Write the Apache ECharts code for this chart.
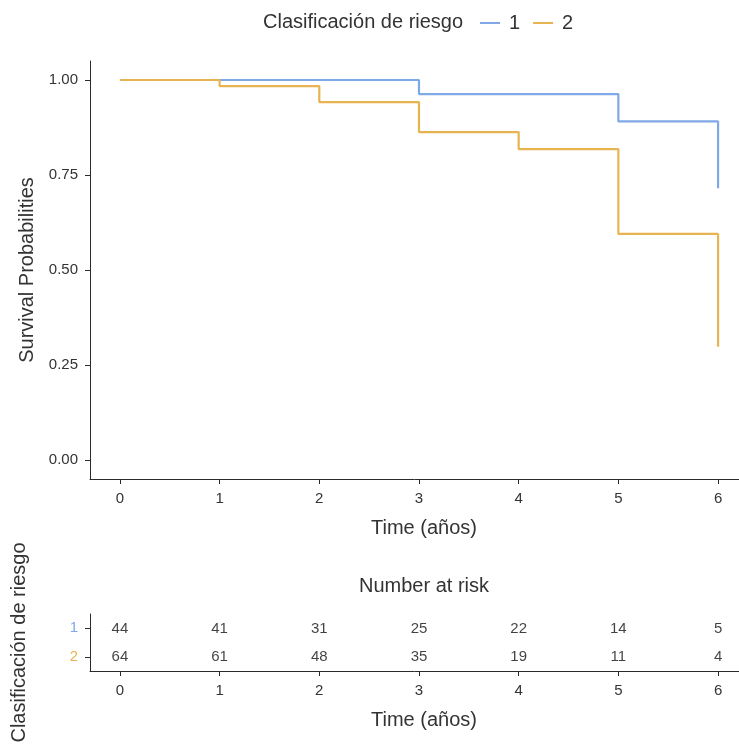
<!DOCTYPE html>
<html>
<head>
<meta charset="utf-8">
<script src="https://cdn.jsdelivr.net/npm/echarts@6/dist/echarts.min.js"></script>
<style>html,body{margin:0;padding:0;background:#fff}#c{width:739px;height:748px}</style>
</head>
<body>
<div id="c"></div>
<script>
var timeTicks = [0, 1, 2, 3, 4, 5, 6];
var probTicks = [0, 0.25, 0.5, 0.75, 1];
var groupNames = ['1', '2'];
var groupColors = ['#7FA8E6', '#E8B452'];
// Kaplan-Meier step points (time, survival)
var stepTime1 = [0, 3, 5, 6];
var stepSurv1 = [1.0, 0.963, 0.891, 0.715];
var stepTime2 = [0, 1, 2, 3, 4, 5, 6];
var stepSurv2 = [1.0, 0.984, 0.942, 0.863, 0.818, 0.595, 0.298];
var endTime = 6;
var risk1 = [44, 41, 31, 25, 22, 14, 5];
var risk2 = [64, 61, 48, 35, 19, 11, 4];

function steps(ts, ss) {
  var d = [];
  for (var i = 0; i < ts.length; i++) d.push([ts[i], ss[i]]);
  d.push([endTime, ss[ss.length - 1]]);
  return d;
}
function riskData(arr, g) {
  return timeTicks.map(function (t, i) { return [t, g, arr[i]]; });
}

var txt = '#333333';
var font = 'Liberation Sans, Arial, sans-serif';
var axisLineStyle = { show: true, onZero: false, lineStyle: { color: '#2b2b2b', width: 1 } };
var tickStyle = { color: '#2b2b2b', width: 1 };
function ttl(text, top) {
  return { text: text, left: 419, textAlign: 'center', top: top,
    textStyle: { fontSize: 20, fontWeight: 'normal', color: txt, fontFamily: font } };
}

var chart = echarts.init(document.getElementById('c'), null, { renderer: 'canvas' });
chart.setOption({
  animation: false,
  textStyle: { fontFamily: font },
  title: [
    { text: 'Clasificación de riesgo', left: 258, top: 7, textStyle: { fontSize: 20, fontWeight: 'normal', color: txt, fontFamily: font } },
    ttl('Number at risk', 571),
    ttl('Time (años)', 513),
    ttl('Time (años)', 705)
  ],
  legend: {
    left: 475, top: 8, itemWidth: 20, itemHeight: 2, itemGap: 13,
    icon: 'rect',
    data: groupNames,
    textStyle: { fontSize: 20, color: txt, fontFamily: font, padding: [0, 0, 0, 4] }
  },
  grid: [
    { left: 90, top: 61, width: 649, height: 418 },
    { left: 90, top: 614, width: 649, height: 57 }
  ],
  xAxis: [
    {
      gridIndex: 0, type: 'value', min: -0.3, max: 6.21,
      splitLine: { show: false },
      axisLine: axisLineStyle,
      axisTick: { show: true, length: 5, customValues: timeTicks, lineStyle: tickStyle },
      axisLabel: { customValues: timeTicks, fontSize: 15, color: txt, margin: 12 }
    },
    {
      gridIndex: 1, type: 'value', min: -0.3, max: 6.21,
      splitLine: { show: false },
      axisLine: axisLineStyle,
      axisTick: { show: true, length: 5, customValues: timeTicks, lineStyle: tickStyle },
      axisLabel: { customValues: timeTicks, fontSize: 15, color: txt, margin: 12 }
    }
  ],
  yAxis: [
    {
      gridIndex: 0, type: 'value', min: -0.05, max: 1.05,
      splitLine: { show: false },
      axisLine: axisLineStyle,
      axisTick: { show: true, length: 5, customValues: probTicks, lineStyle: tickStyle },
      axisLabel: { customValues: probTicks, fontSize: 15, color: txt, margin: 12,
        formatter: function (v) { return v.toFixed(2); } },
      name: 'Survival Probabilities', nameLocation: 'middle', nameGap: 53, nameRotate: 90,
      nameTextStyle: { fontSize: 20, color: txt }
    },
    {
      gridIndex: 1, type: 'category', data: groupNames, inverse: true,
      splitLine: { show: false },
      axisLine: axisLineStyle,
      axisTick: { show: true, length: 5, alignWithLabel: true, lineStyle: tickStyle },
      axisLabel: { fontSize: 15, margin: 12,
        color: function (v, i) { return groupColors[groupNames.indexOf(v)]; } },
      name: 'Clasificación de riesgo', nameLocation: 'middle', nameGap: 61, nameRotate: 90,
      nameTextStyle: { fontSize: 20, color: txt }
    }
  ],
  series: [
    {
      name: groupNames[0], type: 'line', step: 'end', xAxisIndex: 0, yAxisIndex: 0,
      data: steps(stepTime1, stepSurv1), symbol: 'none',
      lineStyle: { color: groupColors[0], width: 2.2 }, itemStyle: { color: groupColors[0] }
    },
    {
      name: groupNames[1], type: 'line', step: 'end', xAxisIndex: 0, yAxisIndex: 0,
      data: steps(stepTime2, stepSurv2), symbol: 'none',
      lineStyle: { color: groupColors[1], width: 2.2 }, itemStyle: { color: groupColors[1] }
    },
    {
      type: 'scatter', xAxisIndex: 1, yAxisIndex: 1, symbolSize: 0,
      data: riskData(risk1, groupNames[0]),
      label: { show: true, position: 'inside', fontSize: 15, color: '#111', offset: [0, 1],
        formatter: function (p) { return p.value[2]; } }
    },
    {
      type: 'scatter', xAxisIndex: 1, yAxisIndex: 1, symbolSize: 0,
      data: riskData(risk2, groupNames[1]),
      label: { show: true, position: 'inside', fontSize: 15, color: '#111',
        formatter: function (p) { return p.value[2]; } }
    }
  ]
});
</script>
</body>
</html>
